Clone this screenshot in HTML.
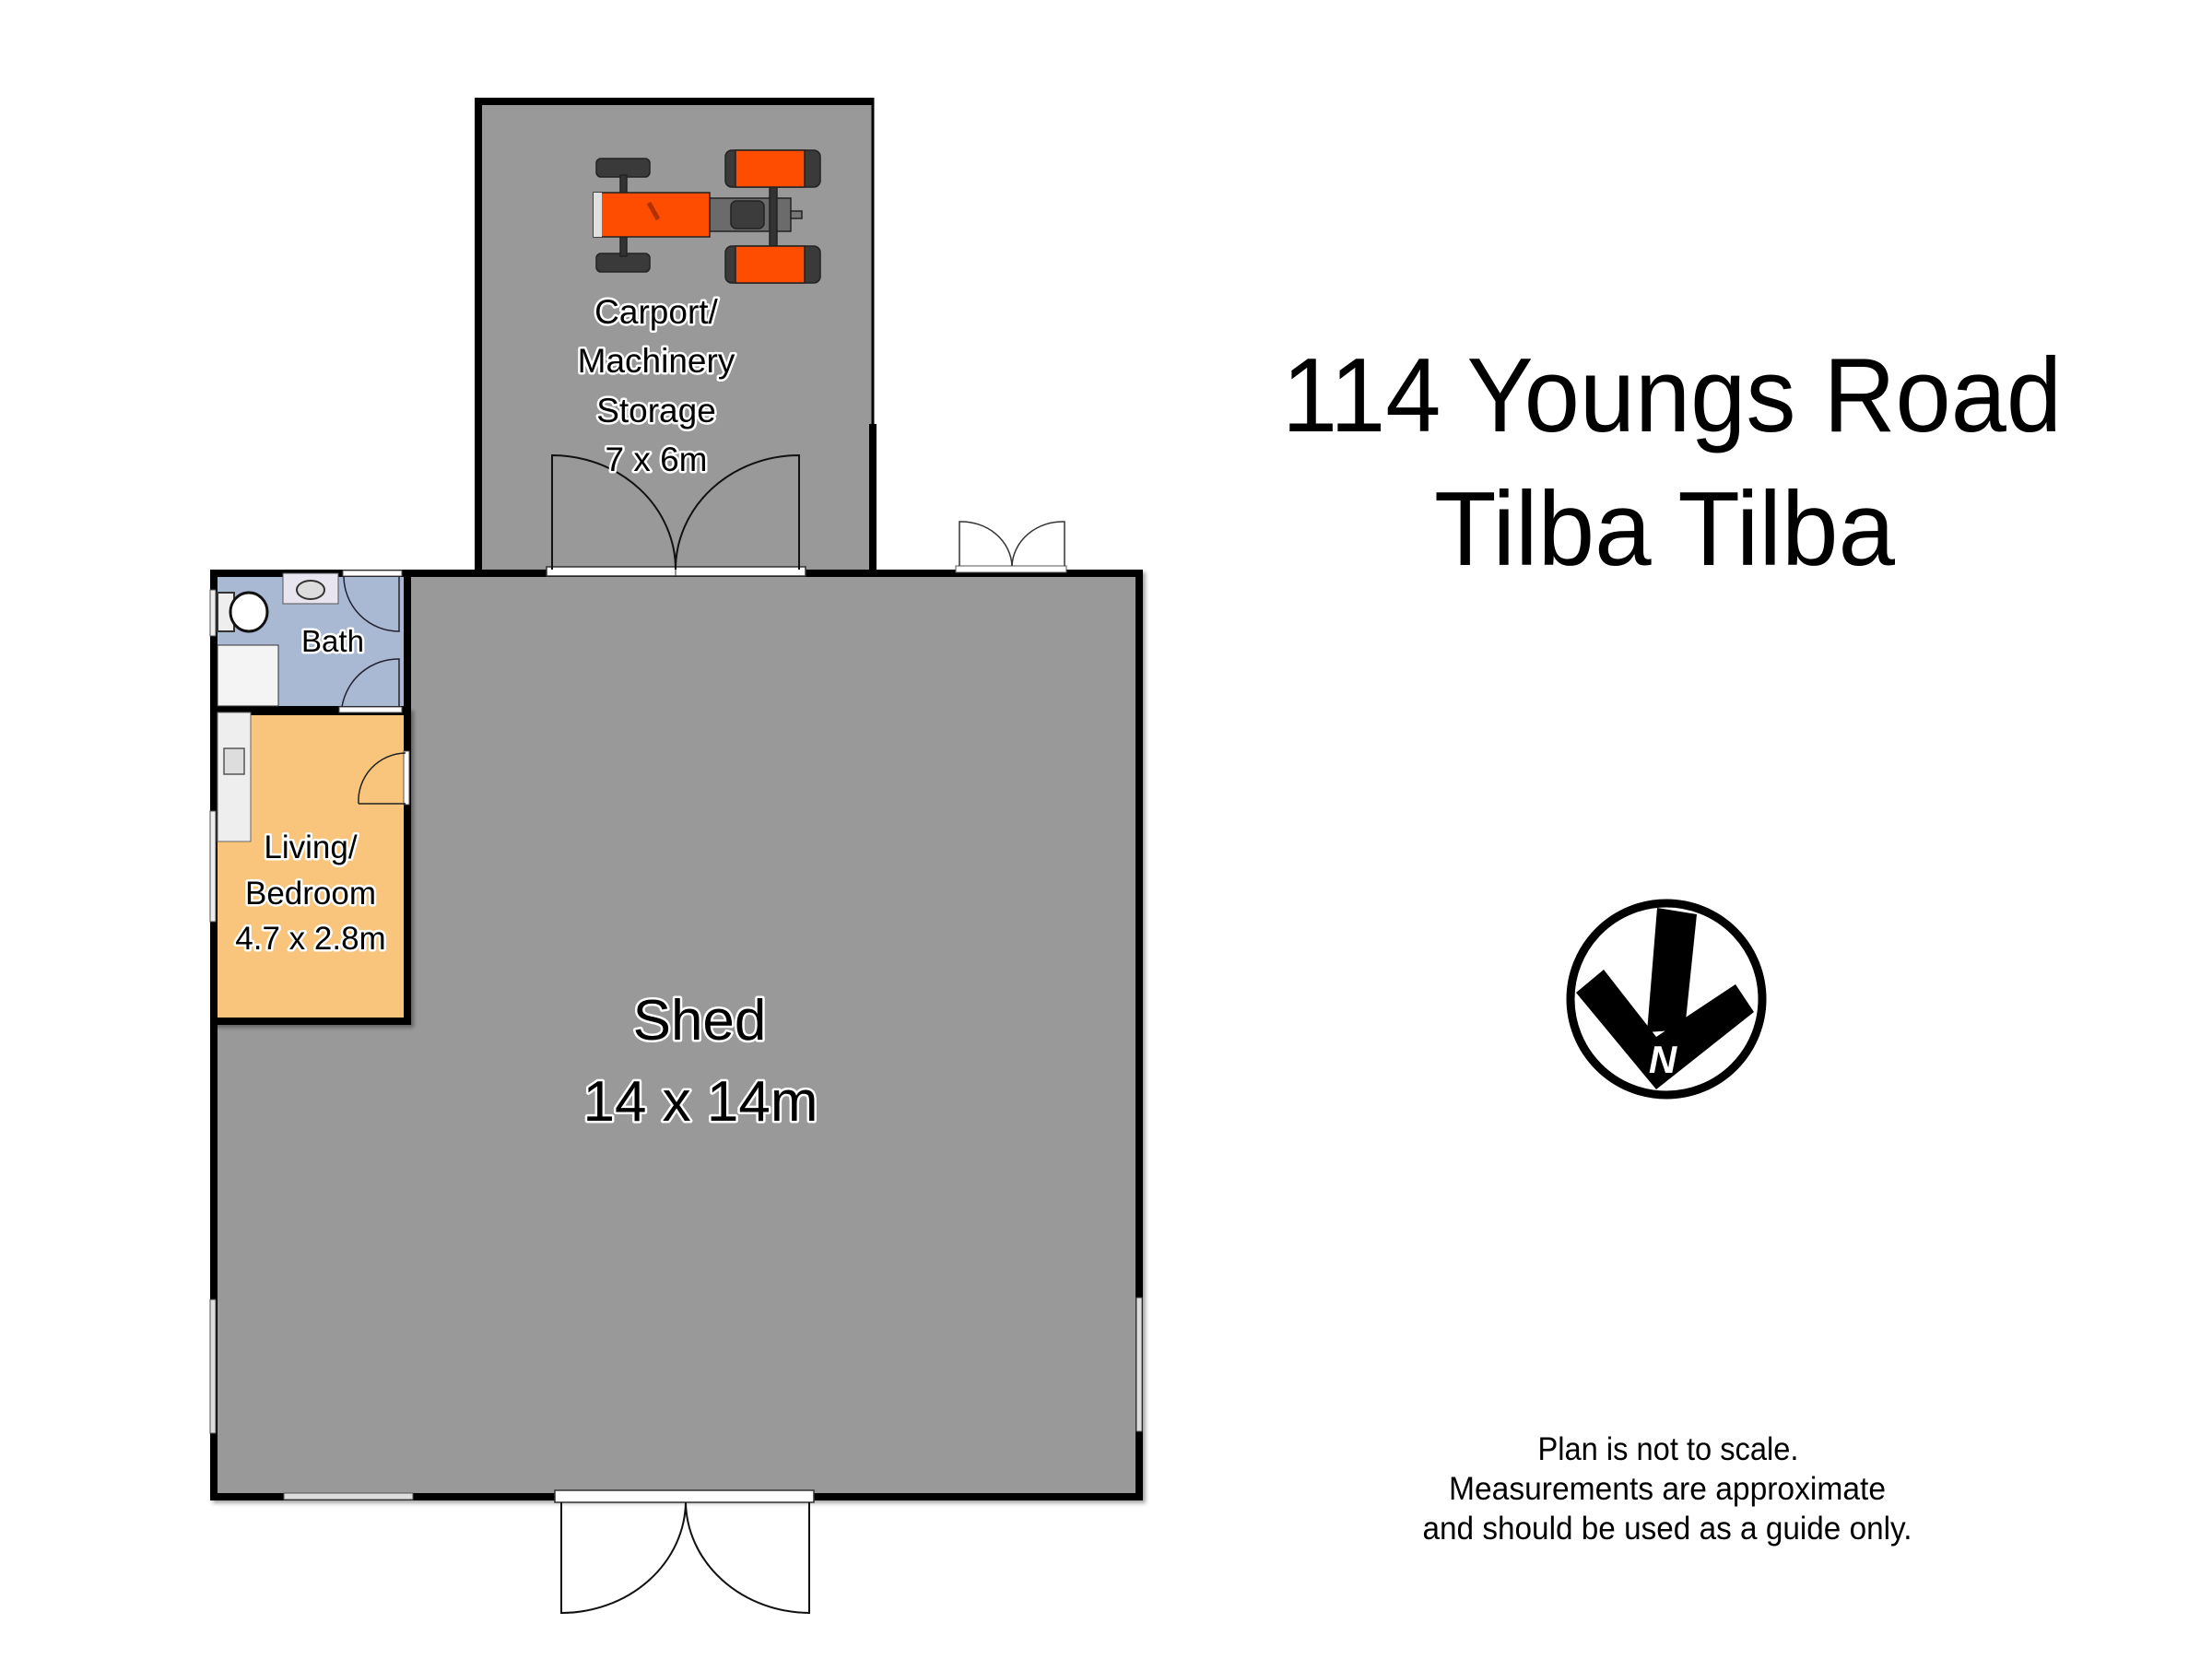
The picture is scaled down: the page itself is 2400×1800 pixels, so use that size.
<!DOCTYPE html>
<html><head><meta charset="utf-8"><style>html,body{margin:0;padding:0;background:#fff}svg{display:block}</style></head>
<body>
<svg width="2400" height="1800" viewBox="0 0 2400 1800" xmlns="http://www.w3.org/2000/svg">
<defs>
<filter id="sh" x="-5%" y="-5%" width="110%" height="110%"><feDropShadow dx="3" dy="3" stdDeviation="2" flood-color="#000" flood-opacity="0.35"/></filter>
</defs>
<!-- Carport -->
<rect x="519" y="110" width="428" height="512" fill="#999"/>
<path d="M519 622 L519 110 L947 110" fill="none" stroke="#000" stroke-width="8" stroke-linejoin="miter"/>
<line x1="947" y1="106" x2="947" y2="460" stroke="#000" stroke-width="3"/>
<line x1="947" y1="460" x2="947" y2="622" stroke="#000" stroke-width="8"/>
<!-- Shed -->
<rect x="232" y="622" width="1004" height="1002" fill="#999" stroke="#000" stroke-width="8" filter="url(#sh)"/>
<!-- Bath -->
<rect x="232" y="622" width="210" height="148" fill="#a9b8d3" stroke="#000" stroke-width="8"/>
<!-- Living -->
<rect x="232" y="772" width="210" height="336" fill="#f9c57d" stroke="#000" stroke-width="8" filter="url(#sh)"/>
<!-- bath fixtures -->
<rect x="307" y="622" width="60" height="33" fill="#e8e4f0" stroke="#555" stroke-width="1"/>
<ellipse cx="337" cy="640" rx="15" ry="10" fill="#ddd" stroke="#333" stroke-width="2"/>
<rect x="236" y="643" width="18" height="42" fill="#eee" stroke="#333" stroke-width="2"/>
<ellipse cx="270" cy="664" rx="20" ry="21" fill="#fff" stroke="#111" stroke-width="3"/>
<rect x="236" y="700" width="66" height="66" fill="#f4f4f4" stroke="#333" stroke-width="1"/>
<rect x="236" y="773" width="36" height="140" fill="#eee" stroke="#666" stroke-width="1"/>
<rect x="243" y="812" width="22" height="28" fill="#ddd" stroke="#555" stroke-width="1.5"/>
<!-- bath doors -->
<rect x="372" y="619" width="64" height="6" fill="#fff" stroke="#555" stroke-width="1"/>
<path d="M373 625 A60 60 0 0 0 433 685 L433 625" fill="none" stroke="#223" stroke-width="1.5"/>
<rect x="368" y="767" width="68" height="6" fill="#fff" stroke="#555" stroke-width="1"/>
<path d="M371 767 A62 62 0 0 1 433 715 L433 767" fill="none" stroke="#223" stroke-width="1.5"/>
<rect x="438" y="815" width="6" height="58" fill="#fff" stroke="#555" stroke-width="1"/>
<path d="M389 872 A52 52 0 0 1 440 817" fill="none" stroke="#222" stroke-width="1.5"/>
<line x1="389" y1="872" x2="440" y2="872" stroke="#222" stroke-width="1.5"/>
<!-- windows -->
<rect x="228" y="640" width="6" height="50" fill="#eee" stroke="#555" stroke-width="1"/>
<rect x="228" y="880" width="6" height="120" fill="#eee" stroke="#555" stroke-width="1"/>
<rect x="228" y="1410" width="6" height="145" fill="#ddd" stroke="#555" stroke-width="1"/>
<rect x="1233" y="1408" width="6" height="145" fill="#ddd" stroke="#555" stroke-width="1"/>
<rect x="308" y="1620" width="140" height="7" fill="#ddd" stroke="#555" stroke-width="1"/>
<!-- carport doors -->
<rect x="593" y="615" width="281" height="10" fill="#fff" stroke="#333" stroke-width="1.5"/>
<line x1="733" y1="615" x2="733" y2="625" stroke="#333"/>
<path d="M599 618 L599 494 A134 124 0 0 1 733 618" fill="none" stroke="#111" stroke-width="2"/>
<path d="M867 618 L867 494 A134 124 0 0 0 733 618" fill="none" stroke="#111" stroke-width="2"/>
<!-- top right door -->
<rect x="1037" y="614" width="120" height="7" fill="#fff" stroke="#555" stroke-width="1"/>
<path d="M1041 614 L1041 566 A55 50 0 0 1 1098 614" fill="none" stroke="#333" stroke-width="1.5"/>
<path d="M1155 614 L1155 566 A55 50 0 0 0 1098 614" fill="none" stroke="#333" stroke-width="1.5"/>
<!-- bottom doors -->
<rect x="602" y="1617" width="281" height="13" fill="#fff" stroke="#333" stroke-width="1.5"/>
<path d="M609 1630 L609 1750 A135 122 0 0 0 744 1630" fill="none" stroke="#111" stroke-width="2"/>
<path d="M878 1630 L878 1750 A135 122 0 0 1 744 1630" fill="none" stroke="#111" stroke-width="2"/>
<!-- tractor -->
<g stroke="#222" stroke-width="1.5">
<rect x="647" y="172" width="58" height="20" rx="5" fill="#3a3a3a"/>
<rect x="647" y="275" width="58" height="20" rx="5" fill="#3a3a3a"/>
<rect x="673" y="190" width="7" height="88" fill="#333"/>
<rect x="770" y="215" width="88" height="36" fill="#6b6b6b"/>
<rect x="793" y="218" width="36" height="30" rx="6" fill="#3c3c3c"/>
<rect x="858" y="229" width="12" height="8" fill="#777"/>
<rect x="835" y="200" width="8" height="70" fill="#333"/>
<rect x="787" y="163" width="103" height="40" rx="7" fill="#3a3a3a"/>
<rect x="798" y="163" width="75" height="40" fill="#ff4d00"/>
<rect x="787" y="267" width="103" height="40" rx="7" fill="#3a3a3a"/>
<rect x="798" y="267" width="75" height="40" fill="#ff4d00"/>
<rect x="644" y="209" width="126" height="48" fill="#ff4d00"/>
<rect x="644" y="209" width="9" height="48" fill="#e0e0e0" stroke="none"/>
</g>
<line x1="704" y1="220" x2="714" y2="238" stroke="#b33000" stroke-width="5"/>
<!-- room labels -->
<g font-family="'Liberation Sans', Arial, sans-serif" text-anchor="middle" fill="#000" stroke="#fff" stroke-width="5" paint-order="stroke" stroke-linejoin="round">
<text x="712" y="351" font-size="37">Carport/</text>
<text x="712" y="404" font-size="37">Machinery</text>
<text x="712" y="458" font-size="37">Storage</text>
<text x="712" y="511" font-size="37">7 x 6m</text>
<text x="361" y="707" font-size="33">Bath</text>
<text x="337" y="931" font-size="35">Living/</text>
<text x="337" y="981" font-size="35">Bedroom</text>
<text x="337" y="1030" font-size="35">4.7 x 2.8m</text>
<text x="759" y="1128" font-size="62">Shed</text>
<text x="760" y="1216" font-size="62">14 x 14m</text>
</g>
<!-- title -->
<g font-family="'Liberation Sans', Arial, sans-serif" fill="#000">
<text x="1391" y="468" font-size="114" textLength="846" lengthAdjust="spacingAndGlyphs">114 Youngs Road</text>
<text x="1556" y="613" font-size="114" textLength="500" lengthAdjust="spacingAndGlyphs">Tilba Tilba</text>
<text x="1810" y="1584" font-size="35" text-anchor="middle" textLength="283" lengthAdjust="spacingAndGlyphs">Plan is not to scale.</text>
<text x="1809" y="1627" font-size="35" text-anchor="middle" textLength="474" lengthAdjust="spacingAndGlyphs">Measurements are approximate</text>
<text x="1809" y="1670" font-size="35" text-anchor="middle" textLength="531" lengthAdjust="spacingAndGlyphs">and should be used as a guide only.</text>
</g>
<!-- compass -->
<circle cx="1808" cy="1084" r="104" fill="#fff" stroke="#000" stroke-width="9"/>
<polygon points="1710,1077 1740,1052 1797,1125 1883,1068 1903,1098 1797,1182" fill="#000"/>
<polygon points="1798,985 1841,992 1828,1117 1787,1120" fill="#000"/>
<text x="1804" y="1164" font-family="'Liberation Sans', Arial, sans-serif" font-weight="bold" font-style="italic" font-size="42" fill="#fff" text-anchor="middle">N</text>
</svg>
</body></html>
